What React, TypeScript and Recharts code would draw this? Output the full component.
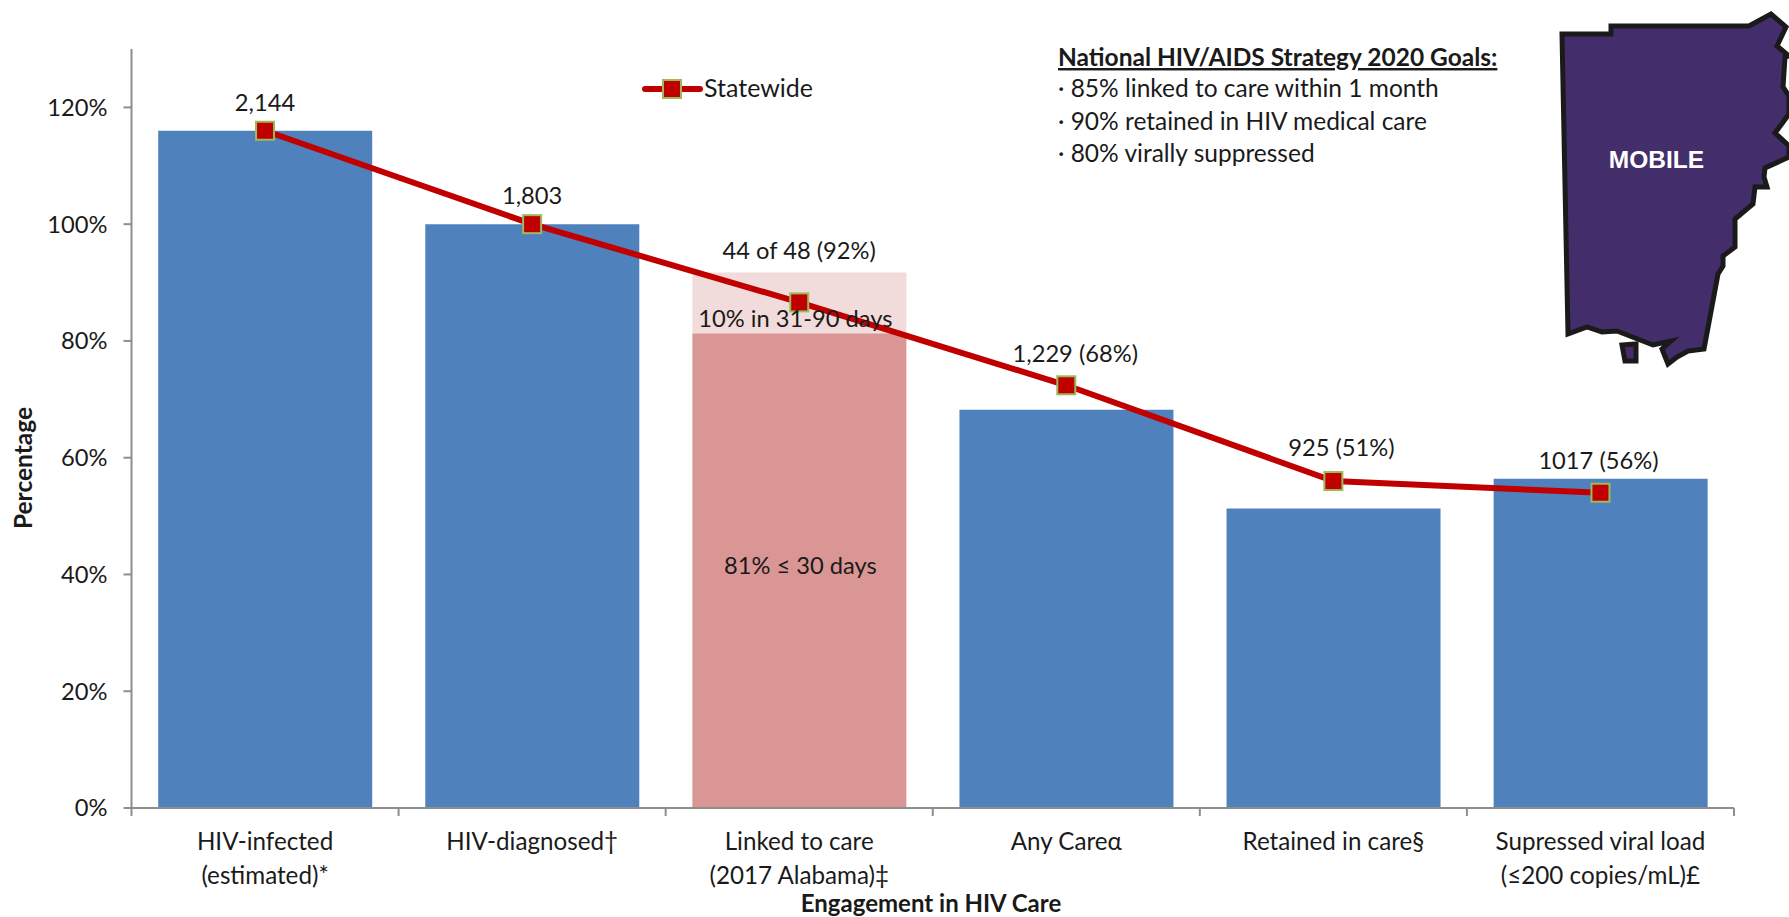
import React from "react";
import { ComposedChart, Bar, Line, XAxis, YAxis, Legend, LabelList, Label } from "recharts";

const categoryFirstLine = ["HIV-infected", "HIV-diagnosed†", "Linked to care", "Any Careα", "Retained in care§", "Supressed viral load"];
const categorySecondLine = ["(estimated)*", "", "(2017 Alabama)‡", "", "", "(≤200 copies/mL)£"];
const carePercent = [116, 100, null, 68.2, 51.3, 56.4];
const linked30Days = [null, null, 81.3, null, null, null];
const linked90Days = [null, null, 10.4, null, null, null];
const statewide = [116, 100, 86.6, 72.4, 56, 54];
const pointLabels = ["2,144", "1,803", "44 of 48 (92%)", "1,229 (68%)", "925 (51%)", "1017 (56%)"];
const percentTicks = [0, 20, 40, 60, 80, 100, 120];
const goalsTitle = "National HIV/AIDS Strategy 2020 Goals:";
const goals = ["· 85% linked to care within 1 month", "· 90% retained in HIV medical care", "· 80% virally suppressed"];

const labelLift = [28, 28, 51, 31, 33, 32];
const labelShift = [0, 0, 0, 9, 8, -2];
const FONT = "Lato, Carlito, sans-serif";
const FS = 23.7;
const INK = "#1a1a1a";
const AXIS = "#8e8e8e";
const LEFT = 131.5;
const RIGHT = 55;
const W = 1789;
const H = 917;
const BAND = (W - LEFT - RIGHT) / categoryFirstLine.length;

const data = categoryFirstLine.map((name, i) => ({
  name,
  second: categorySecondLine[i],
  care: carePercent[i],
  linked30: linked30Days[i],
  linked90: linked90Days[i],
  statewide: statewide[i],
  pointLabel: pointLabels[i],
}));

const CategoryTick = (p: any) => {
  const i = p.payload.index;
  return (
    <g>
      <line x1={p.x - BAND / 2} x2={p.x - BAND / 2} y1={808} y2={816} stroke={AXIS} strokeWidth={2} />
      {i === categoryFirstLine.length - 1 && (
        <line x1={p.x + BAND / 2} x2={p.x + BAND / 2} y1={808} y2={816} stroke={AXIS} strokeWidth={2} />
      )}
      <text x={p.x} y={850} textAnchor="middle" fontFamily={FONT} fontSize={24.2} fill={INK}>{categoryFirstLine[i]}</text>
      <text x={p.x} y={884} textAnchor="middle" fontFamily={FONT} fontSize={24.2} fill={INK}>{categorySecondLine[i]}</text>
    </g>
  );
};

const PointLabel = (p: any) => (
  <text x={p.x + labelShift[p.index]} y={p.y - labelLift[p.index]} dy={8} textAnchor="middle" fontFamily={FONT} fontSize={FS} fill={INK}>
    {p.value}
  </text>
);

const note = (text: string, dx: number, dy: number) => (p: any) => {
  if (p.value == null) return null;
  return (
    <text x={p.x + p.width / 2 + dx} y={p.y + p.height / 2 + dy} dominantBaseline="central" textAnchor="middle" fontFamily={FONT} fontSize={FS} fill={INK}>
      {text}
    </text>
  );
};

const Marker = (p: any) => (
  <rect key={p.index} x={p.cx - 9} y={p.cy - 9} width={18} height={18} fill="#c00000" stroke="#9bbb59" strokeWidth={2} />
);

const LegendBody = (p: any) => {
  const item = (p.payload || []).find((x: any) => x.value === "Statewide");
  return (
    <svg width={220} height={36} style={{ display: "block", overflow: "visible" }}>
      <line x1={3} x2={58} y1={15} y2={15} stroke="#c00000" strokeWidth={6} strokeLinecap="round" />
      <rect x={21} y={6} width={18} height={18} fill="#c00000" stroke="#9bbb59" strokeWidth={2} />
      <text x={62} y={23} fontFamily={FONT} fontSize={25} fill={INK}>{item ? item.value : "Statewide"}</text>
    </svg>
  );
};

const MAP_OUTLINE = "M1562,34 L1611,34 L1611,26 L1749,26 L1771,14 L1786,27 L1777,46 L1789,56 L1785,57 L1783,87 L1789,96 L1789,114 L1775,133 L1789,146 L1789,157 L1765,168 L1764,177 L1767,187 L1755,187 L1753,204 L1735,219 L1735,247 L1723,256 L1723,266 L1718,274 L1704,349 L1688,351 L1677,357 L1668,364 L1662,349 L1671,341 L1653,345 L1617,331 L1602,332 L1587,327 L1568,334 Z";
const MAP_ISLAND = "M1622,345 L1636,344 L1636,361 L1625,361 Z";

const MobileMap = () => (
  <g>
    <path d={MAP_OUTLINE} fill="#432e6b" stroke="#1a1a1a" strokeWidth={5} strokeLinejoin="miter" />
    <path d={MAP_ISLAND} fill="#432e6b" stroke="#1a1a1a" strokeWidth={5} />
    <text x={1656.5} y={168} textAnchor="middle" fontFamily="'Liberation Sans', Arial, sans-serif" fontWeight={700} fontSize={24.5} fill="#ffffff">MOBILE</text>
  </g>
);

const GoalsNote = () => (
  <g fontFamily={FONT} fontSize={24.5} fill={INK}>
    <text x={1058} y={66} fontWeight={700} textDecoration="underline">{goalsTitle}</text>
    {goals.map((g, i) => (
      <text key={g} x={1058} y={97 + i * 32.5}>{g}</text>
    ))}
  </g>
);

export default function App() {
  return (
    <div style={{ position: "absolute", left: 0, top: 0, width: W, height: H, overflow: "hidden", background: "#fff" }}>
      <ComposedChart
        width={W}
        height={H}
        data={data}
        margin={{ top: 49, right: RIGHT, bottom: 0, left: 0 }}
        barCategoryGap="10%"
      >
        <XAxis
          dataKey="name"
          height={109}
          interval={0}
          tickLine={false}
          stroke={AXIS}
          strokeWidth={2}
          tick={CategoryTick}
        >
          <Label content={() => (
            <text x={931} y={912} textAnchor="middle" fontFamily={FONT} fontSize={24} fontWeight={700} fill={INK}>Engagement in HIV Care</text>
          )} />
        </XAxis>
        <YAxis
          width={LEFT}
          domain={[0, 130]}
          ticks={percentTicks}
          allowDataOverflow
          tickFormatter={(v: number) => `${v}%`}
          stroke={AXIS}
          strokeWidth={2}
          tickSize={8}
          tickMargin={16}
          tick={{ fontFamily: FONT, fontSize: FS, fill: INK }}
        >
          <Label content={() => (
            <text transform="rotate(-90 32 468)" x={32} y={468} textAnchor="middle" fontFamily={FONT} fontSize={24.5} fontWeight={700} fill={INK}>Percentage</text>
          )} />
        </YAxis>
        <Legend
          layout="horizontal"
          verticalAlign="middle"
          align="center"
          content={LegendBody}
          wrapperStyle={{ position: "absolute", left: 642, top: 74, width: 220, height: 36 }}
        />
        <Bar dataKey="care" stackId="a" fill="#4f81bd" isAnimationActive={false} legendType="none" />
        <Bar dataKey="linked30" stackId="a" fill="#d99694" isAnimationActive={false} legendType="none">
          <LabelList dataKey="linked30" content={note("81% ≤ 30 days", 1, -6)} />
        </Bar>
        <Bar dataKey="linked90" stackId="a" fill="#f2dcdb" isAnimationActive={false} legendType="none">
          <LabelList dataKey="linked90" content={note("10% in 31-90 days", -4, 15)} />
        </Bar>
        <Line
          dataKey="statewide"
          name="Statewide"
          stroke="#c00000"
          strokeWidth={6}
          dot={Marker}
          activeDot={false}
          isAnimationActive={false}
        >
          <LabelList dataKey="pointLabel" content={PointLabel} />
        </Line>
        <GoalsNote />
        <MobileMap />
      </ComposedChart>
    </div>
  );
}
